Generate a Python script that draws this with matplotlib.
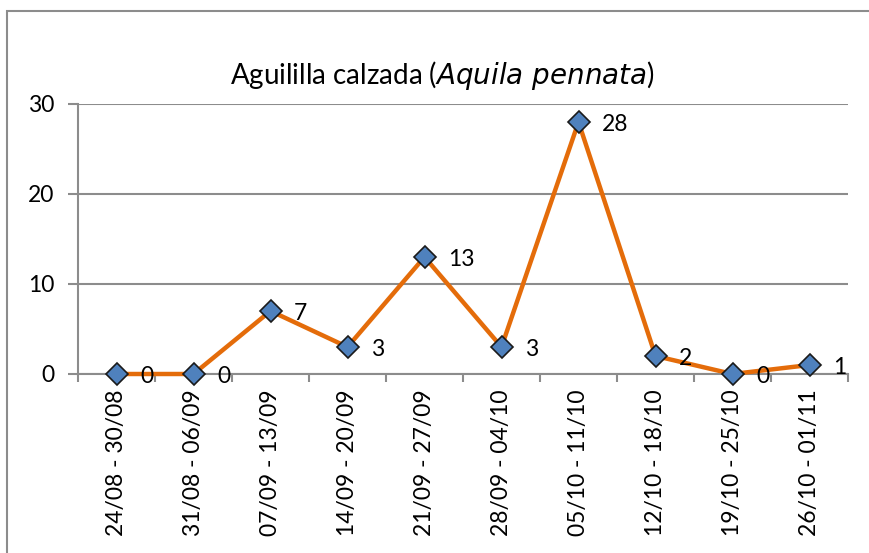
import matplotlib.pyplot as plt
from matplotlib.patches import Rectangle

# — Datos —
semanas = ["24/08 - 30/08", "31/08 - 06/09", "07/09 - 13/09", "14/09 - 20/09",
           "21/09 - 27/09", "28/09 - 04/10", "05/10 - 11/10", "12/10 - 18/10",
           "19/10 - 25/10", "26/10 - 01/11"]
conteos = [0, 0, 7, 3, 13, 3, 28, 2, 0, 1]
yticks = [0, 10, 20, 30]

plt.rcParams['font.family'] = ['Lato', 'DejaVu Sans']
W, H = 869, 553
fig = plt.figure(figsize=(W / 100, H / 100), dpi=100)

# marco del gráfico
fig.patches.append(Rectangle((7 / W, -0.1), 1.2, (H - 11) / H + 0.1,
                             transform=fig.transFigure, fill=False,
                             edgecolor='#8c8c8c', linewidth=1.5))

ax = fig.add_axes([78 / W, (H - 374) / H, (848 - 78) / W, (374 - 104) / H])
x = list(range(len(semanas)))
ax.plot(x, conteos, color='#E46C0A', linewidth=3.2, zorder=3,
        marker='D', markersize=11, markerfacecolor='#4F81BD',
        markeredgecolor='#1a1a1a', markeredgewidth=1.2, clip_on=False)
for xi, v in zip(x, conteos):
    ax.annotate(str(v), (xi, v), xytext=(17, -2), textcoords='offset points',
                ha='left', va='center', fontsize=16.5, zorder=4)

ax.set_xlim(-0.5, len(semanas) - 0.5)
ax.set_ylim(0, 30)
ax.set_yticks(yticks)
ax.set_xticks(x)
ax.set_xticklabels(semanas, rotation=90, fontsize=16.5)
ax.set_xticks([i - 0.5 for i in range(len(semanas) + 1)], minor=True)
ax.tick_params(axis='x', which='major', length=0, pad=11)
ax.tick_params(axis='x', which='minor', length=6, width=1.5, color='#8c8c8c')
ax.tick_params(axis='y', length=7, width=1.5, color='#8c8c8c', labelsize=16.5, pad=10)
ax.grid(axis='y', color='#8c8c8c', linewidth=1.5)
ax.set_axisbelow(True)
for s in ['top', 'right']:
    ax.spines[s].set_visible(False)
for s in ['left', 'bottom']:
    ax.spines[s].set_color('#8c8c8c')
    ax.spines[s].set_linewidth(1.5)

fig.text(442 / W, (H - 75) / H, "Aguililla calzada ($\\it{Aquila\\ pennata}$)",
         ha='center', va='center', fontsize=20)

fig.savefig('out.png', dpi=100)
